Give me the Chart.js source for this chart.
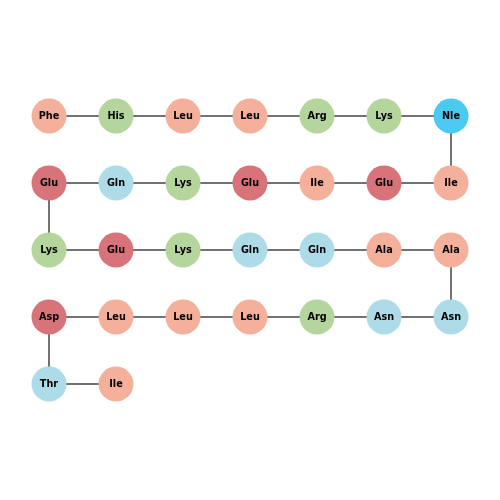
<!DOCTYPE html>
<html>
<head>
<meta charset="utf-8">
<script src="https://cdn.jsdelivr.net/npm/chart.js@4"></script>
<style>
  html, body { margin: 0; padding: 0; background: #ffffff; overflow: hidden; }
  #wrap { width: 500px; height: 500px; }
</style>
</head>
<body>
<div id="wrap"><canvas id="seqChart"></canvas></div>
<script>
// Sequence, read along the snake (left-to-right, then right-to-left, ...)
const residues = [
  'Phe', 'His', 'Leu', 'Leu', 'Arg', 'Lys', 'Nle',
  'Ile', 'Glu', 'Ile', 'Glu', 'Lys', 'Gln', 'Glu',
  'Lys', 'Glu', 'Lys', 'Gln', 'Gln', 'Ala', 'Ala',
  'Asn', 'Asn', 'Arg', 'Leu', 'Leu', 'Leu', 'Asp',
  'Thr', 'Ile'
];
const perRow = 7;

// Residue classes and colours
const hydrophobic = ['Phe', 'Leu', 'Ile', 'Ala'];
const basic = ['His', 'Arg', 'Lys'];
const acidic = ['Glu', 'Asp'];
const polar = ['Gln', 'Asn', 'Thr'];
const special = ['Nle'];

function colorFor(res) {
  if (special.includes(res)) return '#4cc9f0';
  if (hydrophobic.includes(res)) return '#f4b09a';
  if (basic.includes(res)) return '#b4d59c';
  if (acidic.includes(res)) return '#d9737a';
  if (polar.includes(res)) return '#addbe7';
  return '#cccccc';
}

// Snake layout from sequence position
const points = residues.map((res, i) => {
  const row = Math.floor(i / perRow);
  const k = i % perRow;
  const col = row % 2 === 0 ? k : perRow - 1 - k;
  return { x: col, y: row, label: res };
});

const labelPlugin = {
  id: 'residueLabels',
  afterDatasetsDraw(chart) {
    const ctx = chart.ctx;
    const meta = chart.getDatasetMeta(1);
    ctx.save();
    ctx.font = 'bold 9.7px "DejaVu Sans"';
    ctx.fillStyle = '#000000';
    ctx.textAlign = 'center';
    ctx.textBaseline = 'middle';
    meta.data.forEach((el, i) => {
      ctx.fillText(points[i].label, el.x, el.y);
    });
    ctx.restore();
  }
};

const ctx = document.getElementById('seqChart').getContext('2d');
new Chart(ctx, {
  type: 'scatter',
  data: {
    datasets: [
      {
        // backbone connecting consecutive residues
        data: points.map(p => ({ x: p.x, y: p.y })),
        showLine: true,
        borderColor: '#444444',
        borderWidth: 1.5,
        pointRadius: 0,
        fill: false,
        order: 2
      },
      {
        data: points.map(p => ({ x: p.x, y: p.y })),
        pointRadius: 17.5,
        pointHoverRadius: 17.5,
        pointBackgroundColor: points.map(p => colorFor(p.label)),
        pointBorderWidth: 0,
        order: 1
      }
    ]
  },
  options: {
    responsive: true,
    maintainAspectRatio: false,
    animation: false,
    layout: { padding: 0, autoPadding: false },
    scales: {
      x: { type: 'linear', display: false, min: -49 / 67, max: -49 / 67 + 500 / 67 },
      y: { type: 'linear', display: false, reverse: true, min: -116 / 67, max: -116 / 67 + 500 / 67 }
    },
    plugins: {
      legend: { display: false },
      tooltip: { enabled: false }
    }
  },
  plugins: [labelPlugin]
});
</script>
</body>
</html>
